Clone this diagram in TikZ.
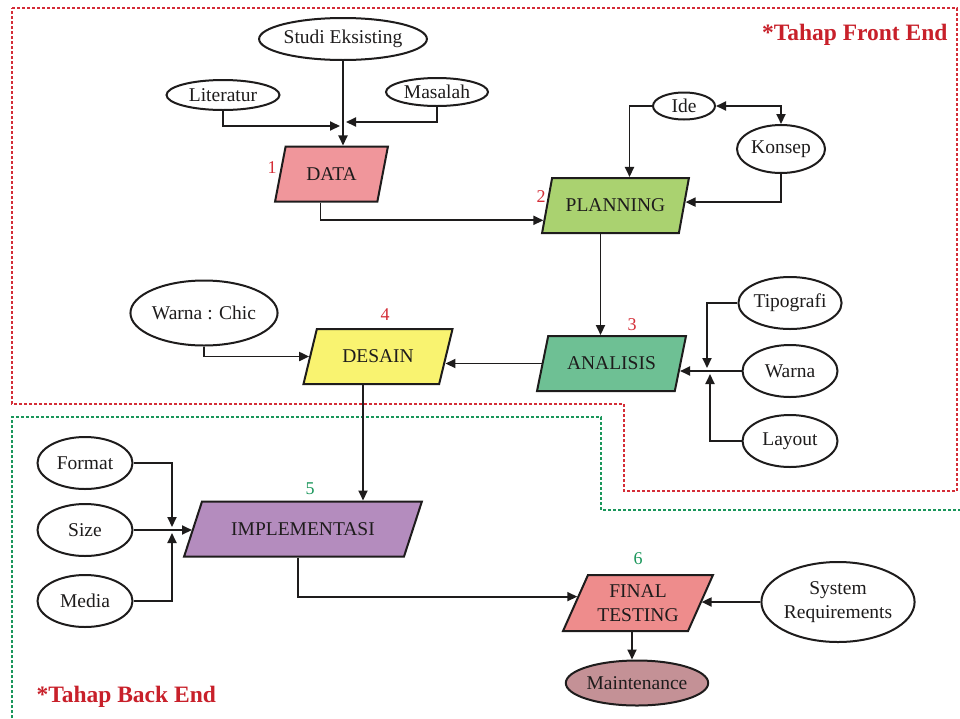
\documentclass[tikz,border=0pt]{standalone}
\usepackage{fontspec}
\setmainfont{Liberation Serif}
\usetikzlibrary{shapes.geometric,arrows.meta,calc}
\definecolor{cdata}{RGB}{240,150,155}
\definecolor{cplan}{RGB}{170,210,112}
\definecolor{canal}{RGB}{110,192,148}
\definecolor{cdes}{RGB}{249,243,112}
\definecolor{cimpl}{RGB}{180,140,190}
\definecolor{cfinal}{RGB}{238,140,140}
\definecolor{cmaint}{RGB}{196,145,150}
\definecolor{cred}{RGB}{212,45,55}
\definecolor{cgreen}{RGB}{25,150,90}
\definecolor{ctitle}{RGB}{200,32,42}
\definecolor{cink}{RGB}{30,28,28}
\tikzset{
  txt/.style={font=\fontsize{19.5}{24}\selectfont, text=cink},
  oval/.style={txt, ellipse, draw=cink, line width=2pt, fill=white, inner sep=0pt},
  para/.style={txt, trapezium, trapezium stretches=true, draw=cink, line width=2pt,
     trapezium left angle=62, trapezium right angle=118, inner sep=1pt,
     minimum height=55pt, minimum width=150pt},
  arr/.style={draw=cink, line width=1.9pt, -{Triangle[length=10pt,width=9pt]}},
  arrtwo/.style={draw=cink, line width=1.9pt, {Triangle[length=10pt,width=9pt]}-{Triangle[length=10pt,width=9pt]}},
  numred/.style={font=\fontsize{18}{20}\selectfont, text=cred},
  numgreen/.style={font=\fontsize{18}{20}\selectfont, text=cgreen},
  bound/.style={line width=1.4pt, dash pattern=on 3pt off 2pt},
  title/.style={font=\bfseries\fontsize{23.5}{27}\selectfont, text=ctitle}
}
\begin{document}
\begin{tikzpicture}[x=1pt,y=-1pt]
\useasboundingbox[fill=white] (0,0) rectangle (960,718);

% boundaries
\draw[bound, draw=cred] (12,8) -- (957,8) -- (957,491) -- (624,491) -- (624,404) -- (12,404) -- cycle;
\draw[bound, draw=cgreen] (12,718) -- (12,417) -- (601,417) -- (601,510) -- (960,510);

% titles
\node[title, anchor=east] (tfront) at (951,35) {*Tahap Front End};
\node[title, anchor=west] (tback) at (33,697) {*Tahap Back End};

% process nodes
\node[para, fill=cdata, minimum width=113pt, trapezium left angle=68, trapezium right angle=112] (data) at (331.5,174) {DATA};
\node[para, fill=cplan, minimum width=147pt] (plan) at (615.5,205.5) {PLANNING};
\node[para, fill=canal, minimum width=149pt] (anal) at (611.5,363.5) {ANALISIS};
\node[para, fill=cdes, minimum width=150pt] (des) at (378,356.5) {DESAIN};
\node[para, fill=cimpl, minimum width=238pt, trapezium left angle=49.5, trapezium right angle=130.5] (impl) at (303,529) {IMPLEMENTASI};
\node[para, fill=cfinal, minimum width=150pt, minimum height=56pt, align=center, font=\fontsize{19.5}{24}\selectfont] (final) at (638,603) {FINAL\\TESTING};

% numbers
\node[numred] (n1) at (272,168) {1};
\node[numred] (n2) at (541,197) {2};
\node[numred] (n3) at (632,325) {3};
\node[numred] (n4) at (385,315) {4};
\node[numgreen] (n5) at (310,489) {5};
\node[numgreen] (n6) at (638,559) {6};

% ovals
\node[oval, minimum width=160pt, minimum height=42pt] (studi) at (343,39) {Studi Eksisting};
\node[oval, minimum width=113pt, minimum height=30pt] (lit) at (223,95) {Literatur};
\node[oval, minimum width=102pt, minimum height=28pt] (mas) at (437,92) {Masalah};
\node[oval, minimum width=62pt, minimum height=27pt] (ide) at (684,106) {Ide};
\node[oval, minimum width=88pt, minimum height=48pt] (konsep) at (781,149) {Konsep};
\node[oval, minimum width=95pt, minimum height=52pt] (tipo) at (790,303) {Tipografi};
\node[oval, minimum width=95pt, minimum height=52pt] (warna) at (790,371) {Warna};
\node[oval, minimum width=95pt, minimum height=52pt] (layout) at (790,441) {Layout};
\node[oval, minimum width=118pt, minimum height=65pt] (chic) at (204,313) {Warna : Chic};
\node[oval, minimum width=95pt, minimum height=52pt] (format) at (85,463) {Format};
\node[oval, minimum width=95pt, minimum height=52pt] (size) at (85,530) {Size};
\node[oval, minimum width=95pt, minimum height=52pt] (media) at (85,601) {Media};
\node[oval, minimum width=143pt, minimum height=80pt, align=center, font=\fontsize{19.5}{24}\selectfont] (sys) at (838,602) {System\\Requirements};
\node[oval, fill=cmaint, minimum width=120pt, minimum height=45pt] (maint) at (637,683) {Maintenance};

% junction coordinates
\coordinate (jA) at (340,126);
\coordinate (jB) at (346,122);
\coordinate (jT) at (707,368);
\coordinate (jL) at (710,374);
\coordinate (jF) at (172,527);
\coordinate (jM) at (172,533);
\coordinate (pL) at ($(plan.bottom left corner)!0.24!(plan.top left corner)$);
\coordinate (pR) at ($(plan.bottom right corner)!0.56!(plan.top right corner)$);
\coordinate (aR) at ($(anal.bottom right corner)!0.38!(anal.top right corner)$);
\coordinate (dR) at ($(des.bottom right corner)!0.4!(des.top right corner)$);
\coordinate (iL) at ($(impl.bottom left corner)!0.5!(impl.top left corner)$);
\coordinate (fL) at ($(final.bottom left corner)!0.61!(final.top left corner)$);
\coordinate (fR) at ($(final.bottom right corner)!0.5!(final.top right corner)$);

% connectors
\draw[arr] (studi.south) -- (studi.south |- data.north);
\draw[arr] (lit.south) |- (jA);
\draw[arr] (mas.south) |- (jB);
\draw[arr] ([xshift=-11pt]data.south) |- (pL);
\draw[arr] (ide.west) -| ([xshift=14pt]plan.north);
\draw[arrtwo] (ide.east) -| (konsep.north);
\draw[arr] (konsep.south) |- (pR);
\draw[arr] ([xshift=-15pt]plan.south) -- ([xshift=-15pt]plan.south |- anal.north);
\draw[arr] (warna.west) -- (aR |- warna.west);
\draw[arr] (tipo.west) -| (jT);
\draw[arr] (layout.west) -| (jL);
\draw[arr] (anal.left side) -- (dR |- anal.left side);
\draw[arr] (chic.south) |- (des.left side);
\draw[arr] ([xshift=-15pt]des.south) -- ([xshift=-15pt]des.south |- impl.north);
\draw[arr] (format.east) -| (jF);
\draw[arr] (media.east) -| (jM);
\draw[arr] (size.east) -- (iL |- size.east);
\draw[arr] ([xshift=-5pt]impl.south) |- (fL);
\draw[arr] (sys.west) -- (fR |- sys.west);
\draw[arr] ([xshift=-6pt]final.south) -- ([xshift=-6pt]final.south |- maint.north);
\end{tikzpicture}
\end{document}
